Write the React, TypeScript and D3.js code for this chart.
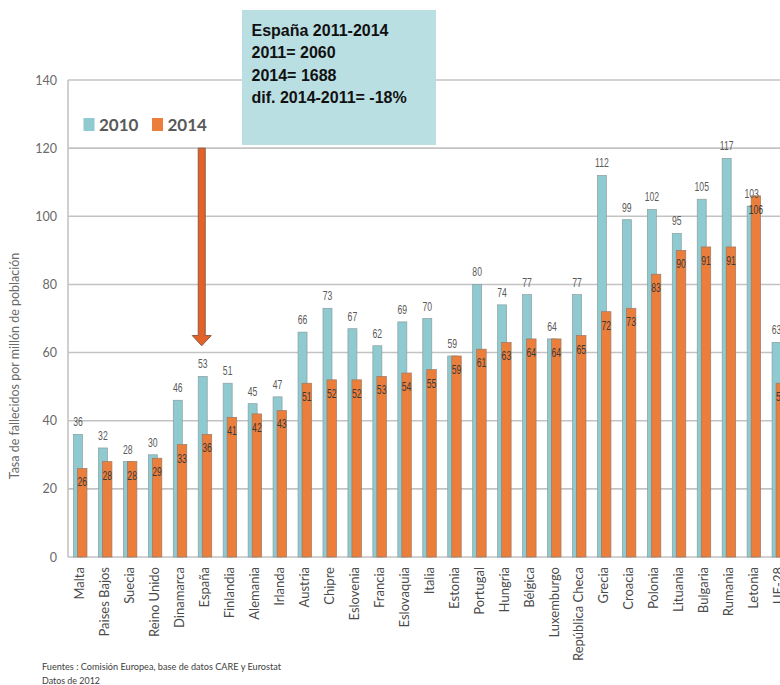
import React from "react";
import * as d3 from "d3";

const categories = [
  "Malta", "Paises Bajos", "Suecia", "Reino Unido", "Dinamarca", "España",
  "Finlandia", "Alemania", "Irlanda", "Austria", "Chipre", "Eslovenia",
  "Francia", "Eslovaquia", "Italia", "Estonia", "Portugal", "Hungria",
  "Bélgica", "Luxemburgo", "República Checa", "Grecia", "Croacia", "Polonia",
  "Lituania", "Bulgaria", "Rumania", "Letonia", "UE-28",
];
const values2010 = [36, 32, 28, 30, 46, 53, 51, 45, 47, 66, 73, 67, 62, 69, 70, 59, 80, 74, 77, 64, 77, 112, 99, 102, 95, 105, 117, 103, 63];
const values2014 = [26, 28, 28, 29, 33, 36, 41, 42, 43, 51, 52, 52, 53, 54, 55, 59, 61, 63, 64, 64, 65, 72, 73, 83, 90, 91, 91, 106, 51];
const yTicks = [0, 20, 40, 60, 80, 100, 120, 140];
const seriesNames = ["2010", "2014"];
const boxLines = ["España 2011-2014", "2011= 2060", "2014= 1688", "dif. 2014-2011= -18%"];
const footerLines = ["Fuentes : Comisión Europea, base de datos CARE y Eurostat", "Datos de 2012"];
const footerWidths = [239, 58];
const yTitle = "Tasa de fallecidos por millón de población";

const C2010 = "#8ecacf";
const C2014 = "#ec7e3b";

export default function App() {
  const W = 780, H = 685;
  const left = 68, top = 80, bottom = 557;
  const step = 24.95;
  const x = d3.scaleBand<string>().domain(categories).range([67.5, 67.5 + step * categories.length]).padding(0);
  const y = d3.scaleLinear().domain([0, 140]).range([bottom, top]);
  const cx = (c: string) => (x(c) as number) + x.bandwidth() / 2;

  const narrow = "'Liberation Sans', Arial, sans-serif";
  const calib = "Lato, 'Open Sans', sans-serif";

  const espX = cx("España") - 3;

  return (
    <div style={{ position: "absolute", left: 0, top: 0 }}>
      <svg width={W} height={H} style={{ display: "block", background: "#fff" }}>
        {/* gridlines */}
        {yTicks.map((t) => (
          <line key={"g" + t} x1={left} x2={W} y1={y(t)} y2={y(t)} stroke="#c3c3c3" strokeWidth={1.6} />
        ))}
        <line x1={left} x2={left} y1={top} y2={bottom} stroke="#c3c3c3" strokeWidth={1.6} />
        {/* tick labels */}
        {yTicks.map((t) => (
          <text key={"t" + t} x={57} y={y(t) + 4.5} textAnchor="end" fontFamily={calib} fontSize={12.5} fill="#6a6a6a">
            {t}
          </text>
        ))}
        <text
          transform={`translate(19, 366) rotate(-90)`}
          textAnchor="middle"
          fontFamily={calib}
          fontSize={12.5}
          fill="#6a6a6a"
        >
          {yTitle}
        </text>

        {/* bars */}
        {categories.map((c, i) => {
          const m = cx(c);
          const v1 = values2010[i], v2 = values2014[i];
          return (
            <g key={c}>
              <rect x={m - 6.5} y={y(v1)} width={9} height={y(0) - y(v1)} fill={C2010} stroke="#8a9ea0" strokeWidth={0.7} />
              <rect x={m - 2.5} y={y(v2)} width={9.5} height={y(0) - y(v2)} fill={C2014} stroke="#9a7a66" strokeWidth={0.7} />
              <text transform={`translate(${m - 2}, ${y(v1) - 8}) scale(0.72,1)`} textAnchor="middle" fontFamily={narrow} fontSize={12} fill="#5a5a5a">
                {v1}
              </text>
              <text transform={`translate(${m + 2.3}, ${y(v2) + 18}) scale(0.72,1)`} textAnchor="middle" fontFamily={narrow} fontSize={12} fill="#3a3a3a">
                {v2}
              </text>
              <text
                transform={`translate(${m + 4.5}, 567) rotate(-90)`}
                textAnchor="end"
                fontFamily={calib}
                fontSize={13}
                fill="#4a4a4a"
              >
                {c}
              </text>
            </g>
          );
        })}

        {/* legend */}
        <rect x={83.5} y={118} width={11} height={13} fill={C2010} />
        <text x={99} y={131} fontFamily={calib} fontWeight={700} fontSize={17} fill="#595959">{seriesNames[0]}</text>
        <rect x={152} y={118} width={11} height={13} fill={C2014} />
        <text x={167.5} y={131} fontFamily={calib} fontWeight={700} fontSize={17} fill="#595959">{seriesNames[1]}</text>

        {/* arrow */}
        <path
          d={`M${espX - 3.5},${y(120)} L${espX + 3.5},${y(120)} L${espX + 3.5},${y(65)} L${espX + 9.5},${y(65)} L${espX},${y(62)} L${espX - 9.5},${y(65)} L${espX - 3.5},${y(65)} Z`}
          fill="#e2622a"
          stroke="#8f5a40"
          strokeWidth={1}
        />

        {/* annotation box */}
        <rect x={242} y={10} width={194} height={135} fill="#b9dfe3" />
        {boxLines.map((l, i) => (
          <text key={l} x={251.5} y={36 + i * 22.3} fontFamily={narrow} fontWeight={700} fontSize={16} fill="#111">
            {l}
          </text>
        ))}

        {/* footer */}
        {footerLines.map((l, i) => (
          <text
            key={l}
            x={42}
            y={670 + i * 14}
            fontFamily={calib}
            fontSize={10}
            fill="#404040"
            textLength={footerWidths[i]}
            lengthAdjust="spacingAndGlyphs"
          >
            {l}
          </text>
        ))}
      </svg>
    </div>
  );
}
